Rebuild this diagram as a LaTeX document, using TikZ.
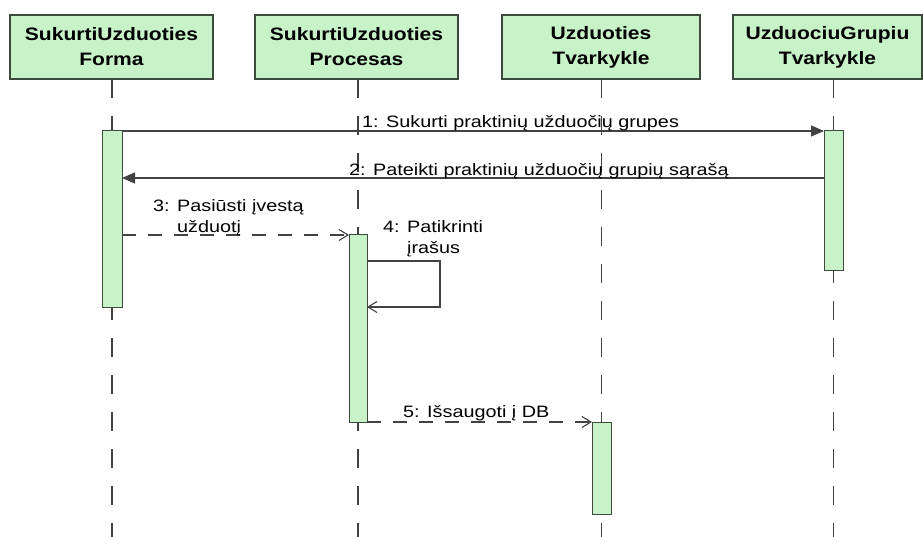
\documentclass[tikz,border=0pt]{standalone}
\usepackage{fontspec}
\setmainfont{Liberation Sans}
\newfontfamily\lblfont[FakeStretch=1.2]{Liberation Sans}
\newfontfamily\hdrfont[FakeStretch=1.17]{Liberation Sans}
\usetikzlibrary{arrows.meta}

\definecolor{actfill}{RGB}{200,243,200}
\definecolor{edge}{RGB}{62,74,62}
\definecolor{wire}{RGB}{66,66,66}

% message number followed by its text
\newcommand{\msgnum}[1]{\makebox[24pt][l]{#1:}}

\begin{document}
\begin{tikzpicture}[x=1pt,y=-1pt,
  header/.style={draw=edge, line width=1.3pt, fill=actfill, inner sep=0pt, outer sep=0pt,
    minimum height=64pt, align=center,
    font=\hdrfont\bfseries\fontsize{18}{25}\selectfont},
  act/.style={draw=edge, line width=1pt, fill=actfill, inner sep=0pt, outer sep=0pt,
    minimum width=19pt},
  lifeline/.style={draw=wire, line width=1.2pt, dash pattern=on 19pt off 18pt},
  sync/.style={draw=wire, line width=1.1pt, -{Triangle[length=13pt,width=11pt]}},
  async/.style={draw=wire, line width=1.1pt, dash pattern=on 14pt off 12pt,
    -{Straight Barb[length=9pt,width=11pt]}},
  selfmsg/.style={draw=wire, line width=1.1pt, -{Straight Barb[length=9pt,width=11pt]}},
  msgtext/.style={font=\lblfont\fontsize{16.5}{21}\selectfont, inner sep=0pt,
    anchor=base west, align=left}]

\useasboundingbox (0,0) rectangle (923,537);

% participant headers
\node[header, minimum width=203pt] (h1) at (111.5,47) {SukurtiUzduoties\\Forma};
\node[header, minimum width=203pt] (h2) at (356.5,47) {SukurtiUzduoties\\Procesas};
\node[header, minimum width=198pt] (h3) at (601,47) {Uzduoties\\Tvarkykle};
\node[header, minimum width=189pt] (h4) at (827.5,47) {UzduociuGrupiu\\Tvarkykle};

% activation bars (placed first as coordinates for the lifelines)
\path (112,219) coordinate (c1) (358,328.5) coordinate (c2)
      (601.5,468) coordinate (c3) (833.5,201) coordinate (c4)
      (0,537) coordinate (bottom);

% lifelines
\draw[lifeline] (c1 |- h1.south) -- (c1 |- bottom);
\draw[lifeline] (c2 |- h2.south) -- (c2 |- bottom);
\draw[lifeline] (c3 |- h3.south) -- (c3 |- bottom);
\draw[lifeline] (c4 |- h4.south) -- (c4 |- bottom);

\node[act, minimum width=20pt, minimum height=176pt] (a1) at (c1) {};
\node[act, minimum width=18pt, minimum height=187pt] (a2) at (c2) {};
\node[act, minimum height=92pt] (a3) at (c3) {};
\node[act, minimum height=140pt] (a4) at (c4) {};

% messages
\coordinate (r2) at (0,178);
\coordinate (s4a) at (440,261);
\coordinate (s4b) at (440,307);

\draw[sync] (a1.north east) -- (a4.north west);
\draw[sync] (a4.west |- r2) -- (a1.east |- r2);
\draw[async] (a1.east |- a2.north) -- (a2.north west);
\draw[selfmsg] (a2.east |- s4a) -- (s4a) -- (s4b) -- (a2.east |- s4b);
\draw[async] (a2.south east) -- (a3.north west);

% message labels
\node[msgtext] (l1) at (362,128) {\msgnum{1}Sukurti praktinių užduočių grupes};
\node[msgtext] (l2) at (349,176) {\msgnum{2}Pateikti praktinių užduočių grupių sąrašą};
\node[msgtext] (l3) at (153,212) {\msgnum{3}\begin{tabular}[t]{@{}l@{}}Pasiūsti įvestą\\užduotį\end{tabular}};
\node[msgtext] (l4) at (383,233) {\msgnum{4}\begin{tabular}[t]{@{}l@{}}Patikrinti\\įrašus\end{tabular}};
\node[msgtext] (l5) at (403,417) {\msgnum{5}Išsaugoti į DB};

\end{tikzpicture}
\end{document}
